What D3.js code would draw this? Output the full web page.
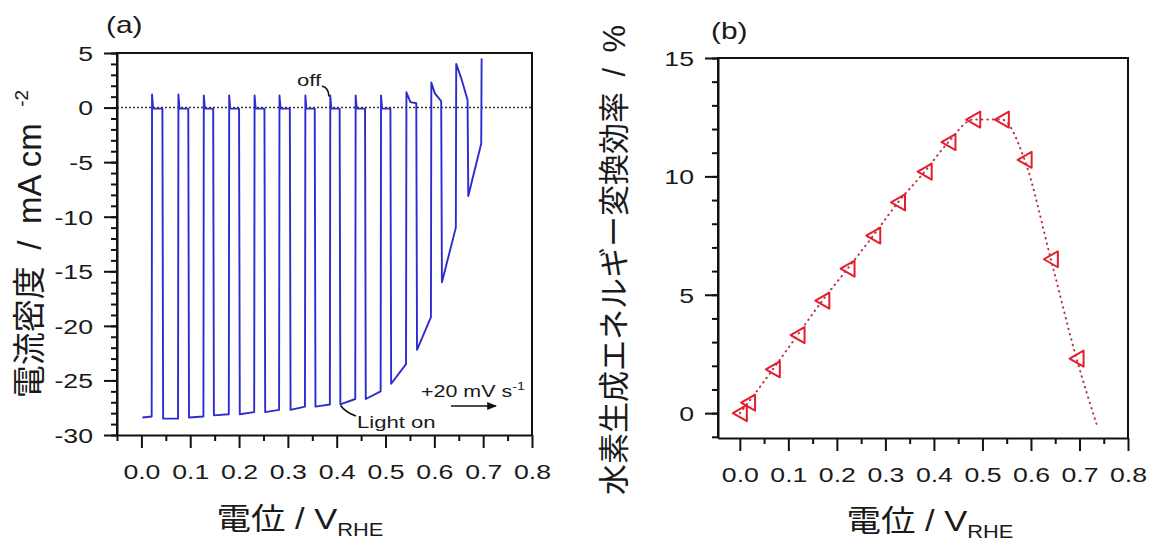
<!DOCTYPE html>
<html>
<head>
<meta charset="utf-8">
<script src="https://cdn.jsdelivr.net/npm/d3@7"></script>
<style>
  body { margin: 0; background: #fff; }
  text { font-family: "Liberation Sans", Arial, sans-serif; fill: #1a1a1a; }
  .cjk { font-family: "Noto Sans CJK JP", "Noto Sans CJK SC", sans-serif; }
</style>
</head>
<body>
<svg id="chart" width="1154" height="543"></svg>
<script>
// (a) chopped-light sweep, one entry per light cycle
const onV    = [0.002, 0.043, 0.096, 0.147, 0.200, 0.252, 0.304, 0.355, 0.406, 0.458, 0.510, 0.563, 0.614, 0.668]
const jStart = [-28.4, -28.5, -28.4, -28.2, -28.1, -27.9, -27.7, -27.4, -27.2, -26.7, -25.3, -22.2, -16.0, -8.1]
const offV   = [0.021, 0.075, 0.127, 0.179, 0.231, 0.282, 0.335, 0.386, 0.438, 0.490, 0.542, 0.593, 0.644, 0.696]
const jEnd   = [-28.3, -28.5, -28.3, -28.1, -27.9, -27.7, -27.4, -27.2, -26.7, -26.0, -23.5, -19.2, -11.0, -3.3]
const spikeJ = [1.2, 1.2, 1.1, 1.1, 1.1, 1.1, 1.1, 1.1, 1.1, 1.1, 1.4, 2.3, 4.0, 4.5]
const settleV = [0.024, 0.078, 0.130, 0.182, 0.234, 0.285, 0.338, 0.389, 0.441, 0.493, 0.551, 0.601, 0.655]
const settleJ = [-0.1, -0.1, -0.1, -0.1, -0.1, -0.1, -0.1, -0.1, -0.1, -0.1, 0.5, 1.3, 2.7]
const darkJ   = [-0.1, -0.1, -0.1, -0.1, -0.1, -0.1, -0.1, -0.1, -0.1, -0.1, 0.4, 0.6, 0.7]

// (b) efficiency points
const effV = [0.0, 0.017, 0.068, 0.119, 0.170, 0.222, 0.275, 0.326, 0.381, 0.430, 0.481, 0.540, 0.587, 0.641, 0.694]
const effP = [0.0, 0.44, 1.85, 3.3, 4.75, 6.1, 7.5, 8.9, 10.2, 11.45, 12.4, 12.4, 10.7, 6.5, 2.3]
// end of the dotted guide line below the last point
const guideEndV = 0.735, guideEndP = -0.45

const xTicks = [0, 0.1, 0.2, 0.3, 0.4, 0.5, 0.6, 0.7, 0.8]
const yTicksA = [5, 0, -5, -10, -15, -20, -25, -30]
const yTicksB = [0, 5, 10, 15]

const svg = d3.select('#chart')
const SX = 1.3 // the original latin text is stretched sideways
const SP = '\u2002' // wide space used in the y titles

// build the trace of panel (a)
let trace = [[onV[0], jStart[0]]]
for (let i = 0; i < onV.length; i++) {
    if (i > 0) {
        trace.push([onV[i], darkJ[i - 1]])
        trace.push([onV[i] + 0.0015, jStart[i]])
    }
    trace.push([offV[i], jEnd[i]])
    trace.push([offV[i] + 0.0008, spikeJ[i]])
    if (i < settleV.length) trace.push([settleV[i], settleJ[i]])
}

function frame(g, x0, x1, y0, y1) {
    g.append('path')
        .attr('d', `M${x0},${y1}V${y0}H${x1}V${y1}`)
        .attr('fill', 'none').attr('stroke', '#111').attr('stroke-width', 2)
}

function xAxis(g, x, y0, y1) {
    const minor = d3.range(-0.05, 0.81, 0.1).filter(v => v >= x.domain()[0] - 1e-9)
    g.append('g').attr('transform', `translate(0,${y1})`)
        .call(d3.axisBottom(x).tickValues(minor).tickSize(6).tickFormat(''))
        .call(a => a.select('.domain').remove())
        .selectAll('line').attr('stroke', '#111').attr('stroke-width', 2)
    const ax = g.append('g').attr('transform', `translate(0,${y1})`)
        .call(d3.axisBottom(x).tickValues(xTicks).tickSize(13).tickSizeOuter(0).tickFormat(d3.format('.1f')))
    ax.select('.domain').attr('stroke', '#111').attr('stroke-width', 2)
    ax.selectAll('line').attr('stroke', '#111').attr('stroke-width', 2)
    ax.selectAll('text').attr('font-size', 20.5).attr('dy', 0).attr('y', 44)
        .attr('transform', `scale(${SX},1)`).style('fill', '#1a1a1a')
}

function yAxis(g, y, x0, ticks, minorStep) {
    const [lo, hi] = y.domain()
    const minor = d3.range(Math.ceil(lo), hi + 0.01, minorStep)
    g.append('g').attr('transform', `translate(${x0},0)`)
        .call(d3.axisLeft(y).tickValues(minor).tickSize(6).tickFormat(''))
        .call(a => a.select('.domain').remove())
        .selectAll('line').attr('stroke', '#111').attr('stroke-width', 2)
    const ay = g.append('g').attr('transform', `translate(${x0},0)`)
        .call(d3.axisLeft(y).tickValues(ticks).tickSize(13).tickSizeOuter(0).tickFormat(d => String(d)))
    ay.select('.domain').attr('stroke', '#111').attr('stroke-width', 2)
    ay.selectAll('line').attr('stroke', '#111').attr('stroke-width', 2)
    ay.selectAll('text').attr('font-size', 20.5).attr('dy', '0.36em')
        .attr('x', -24 / SX).attr('transform', `scale(${SX},1)`).style('fill', '#1a1a1a')
}

function xTitle(g, cx, y) {
    const t = g.append('text').attr('transform', `translate(${cx},${y}) scale(1.15,1)`)
        .attr('text-anchor', 'middle').attr('font-size', 30)
    t.append('tspan').attr('class', 'cjk').text('電位')
    t.append('tspan').text(' / V')
    t.append('tspan').attr('font-size', 19).attr('dy', 7).text('RHE')
}

// ---------- panel (a)
const A = {l: 117, r: 532, t: 53, b: 435}
const xa = d3.scaleLinear().domain([-0.05, 0.8]).range([A.l, A.r])
const ya = d3.scaleLinear().domain([-30, 5]).range([A.b, A.t])
const ga = svg.append('g')

ga.append('line')
    .attr('x1', A.l).attr('x2', A.r).attr('y1', ya(0)).attr('y2', ya(0))
    .attr('stroke', '#333').attr('stroke-width', 1.4).attr('stroke-dasharray', '2,2')

ga.append('path').datum(trace)
    .attr('d', d3.line().x(d => xa(d[0])).y(d => ya(d[1])))
    .attr('fill', 'none').attr('stroke', '#2c2cd0').attr('stroke-width', 1.9)
    .attr('stroke-linejoin', 'round')

frame(ga, A.l, A.r, A.t, A.b)
xAxis(ga, xa, A.t, A.b)
yAxis(ga, ya, A.l, yTicksA, 1)

ga.append('text').attr('x', 106 / 1.3).attr('y', 33).attr('font-size', 23)
    .attr('transform', 'scale(1.3,1)').text('(a)')

// y title (a)
const ta = ga.append('text').attr('transform', `translate(41,${244}) rotate(-90)`)
    .attr('text-anchor', 'middle').attr('font-size', 33)
ta.append('tspan').attr('class', 'cjk').text('電流密度')
ta.append('tspan').text(SP + '/' + SP + 'mA cm' + SP)
ta.append('tspan').attr('font-size', 19).attr('dy', -13).text('-2')

xTitle(ga, 300, 529)

// annotations
ga.append('text').attr('x', 297 / SX).attr('y', 86).attr('font-size', 17)
    .attr('transform', `scale(${SX},1)`).text('off')
ga.append('path').attr('d', `M322,86 Q329,88 ${xa(offV[7]) - 1},${ya(spikeJ[7]) + 1}`)
    .attr('fill', 'none').attr('stroke', '#111').attr('stroke-width', 1.6)
ga.append('text').attr('x', 357 / SX).attr('y', 428).attr('font-size', 17)
    .attr('transform', `scale(${SX},1)`).text('Light on')
ga.append('path').attr('d', `M356,416 Q345,412 ${xa(onV[8]) + 1},${ya(jStart[8]) + 1}`)
    .attr('fill', 'none').attr('stroke', '#111').attr('stroke-width', 1.6)
const rate = ga.append('text').attr('x', 421 / SX).attr('y', 397).attr('font-size', 16.5)
    .attr('transform', `scale(${SX},1)`)
rate.append('tspan').text('+20 mV s')
rate.append('tspan').attr('font-size', 11).attr('dy', -7).text('-1')
svg.append('defs').append('marker').attr('id', 'ah')
    .attr('viewBox', '0 0 10 10').attr('refX', 9).attr('refY', 5)
    .attr('markerWidth', 7).attr('markerHeight', 7).attr('orient', 'auto')
    .append('path').attr('d', 'M0,1L10,5L0,9Z').attr('fill', '#111')
ga.append('line').attr('x1', 451).attr('x2', 496).attr('y1', 406).attr('y2', 406)
    .attr('stroke', '#111').attr('stroke-width', 1.4).attr('marker-end', 'url(#ah)')

// ---------- panel (b)
const B = {l: 718, r: 1128, t: 58, b: 438}
const xb = d3.scaleLinear().domain([-0.045, 0.8]).range([B.l, B.r])
const yb = d3.scaleLinear().domain([-1.05, 15]).range([B.b, B.t])
const gb = svg.append('g')

const guide = effV.map((v, i) => [v, effP[i]]).concat([[guideEndV, guideEndP]])
gb.append('path').datum(guide)
    .attr('d', d3.line().curve(d3.curveMonotoneX).x(d => xb(d[0])).y(d => yb(d[1])))
    .attr('fill', 'none').attr('stroke', '#b83048').attr('stroke-width', 2)
    .attr('stroke-dasharray', '0.5,5').attr('stroke-linecap', 'round')

gb.selectAll('.tri').data(effV).join('path').attr('class', 'tri')
    .attr('transform', (d, i) => `translate(${xb(d)},${yb(effP[i])})`)
    .attr('d', 'M-7,0L7,-8L7,8Z')
    .attr('fill', 'none').attr('stroke', '#e41e2c').attr('stroke-width', 2)
    .attr('stroke-linejoin', 'round')

frame(gb, B.l, B.r, B.t, B.b)
xAxis(gb, xb, B.t, B.b)
yAxis(gb, yb, B.l, yTicksB, 1)

gb.append('text').attr('x', 711 / 1.3).attr('y', 39).attr('font-size', 23)
    .attr('transform', 'scale(1.3,1)').text('(b)')

const tb = gb.append('text').attr('transform', `translate(625,${260}) rotate(-90)`)
    .attr('text-anchor', 'middle').attr('font-size', 31)
tb.append('tspan').attr('class', 'cjk').text('水素生成エネルギー変換効率')
tb.append('tspan').text(SP + '/' + SP + '%')

xTitle(gb, 930, 531)
</script>
</body>
</html>
